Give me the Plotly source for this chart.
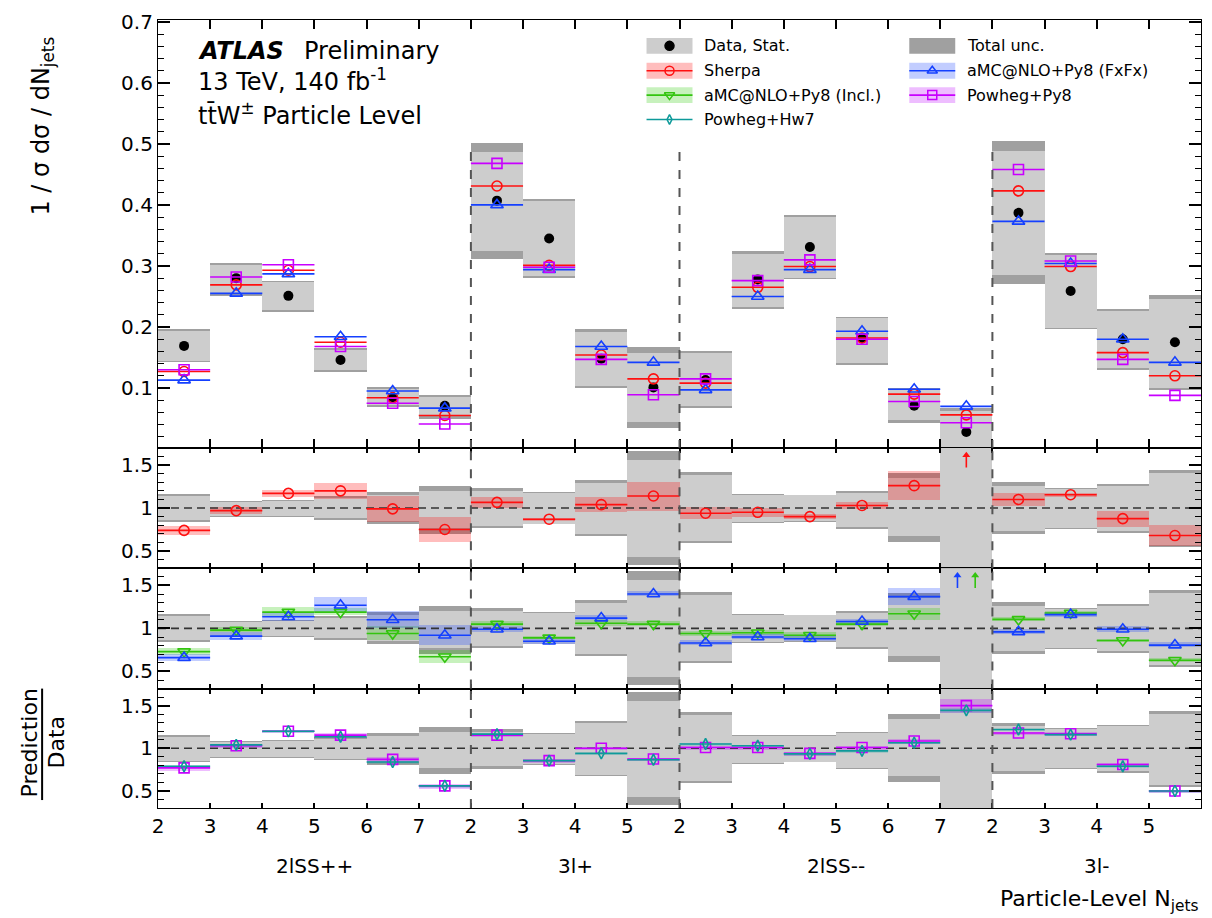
import numpy as np
import plotly.graph_objects as go

# ---------------------------------------------------------------- binning
regions = ["2lSS++", "3l+", "2lSS--", "3l-"]
region_nbins = [6, 4, 6, 4]
edge_labels = ["2", "3", "4", "5", "6", "7",
               "2", "3", "4", "5",
               "2", "3", "4", "5", "6", "7",
               "2", "3", "4", "5"]

# ------------------------------------------- unfolded normalised data
data = [0.169, 0.280, 0.251, 0.146, 0.085, 0.071,
        0.407, 0.345, 0.148, 0.101,
        0.113, 0.278, 0.331, 0.181, 0.071, 0.028,
        0.387, 0.259, 0.180, 0.175]
stat_hi = [0.193, 0.301, 0.273, 0.163, 0.098, 0.085,
           0.487, 0.406, 0.192, 0.158,
           0.157, 0.320, 0.380, 0.214, 0.096, 0.063,
           0.488, 0.318, 0.227, 0.246]
stat_lo = [0.145, 0.254, 0.228, 0.129, 0.072, 0.055,
           0.325, 0.283, 0.103, 0.044,
           0.070, 0.233, 0.281, 0.141, 0.048, 0.000,
           0.286, 0.199, 0.132, 0.100]
tot_hi = [0.196, 0.305, 0.276, 0.166, 0.101, 0.089,
          0.501, 0.410, 0.196, 0.168,
          0.161, 0.324, 0.383, 0.217, 0.100, 0.067,
          0.504, 0.321, 0.230, 0.252]
tot_lo = [0.142, 0.251, 0.225, 0.126, 0.069, 0.050,
          0.312, 0.280, 0.100, 0.034,
          0.067, 0.229, 0.278, 0.138, 0.043, 0.000,
          0.270, 0.196, 0.129, 0.096]

# ------------------------------------------------ predictions, main panel
sherpa = [0.127, 0.269, 0.293, 0.175, 0.084, 0.055,
          0.431, 0.301, 0.154, 0.115,
          0.108, 0.265, 0.299, 0.182, 0.090, 0.056,
          0.423, 0.299, 0.158, 0.120]
amc_fxfx = [0.113, 0.255, 0.287, 0.184, 0.095, 0.067,
            0.400, 0.294, 0.168, 0.142,
            0.097, 0.250, 0.294, 0.193, 0.098, 0.070,
            0.373, 0.304, 0.180, 0.142]
powheg_py8 = [0.130, 0.282, 0.302, 0.168, 0.075, 0.041,
              0.468, 0.298, 0.147, 0.089,
              0.115, 0.276, 0.310, 0.180, 0.078, 0.043,
              0.458, 0.308, 0.147, 0.088]

# ------------------------------------------------ prediction / data ratios
r_sherpa = [0.74, 0.97, 1.17, 1.20, 0.99, 0.75,
            1.066, 0.87, 1.04, 1.14,
            0.94, 0.95, 0.90, 1.03, 1.26, 2.00,
            1.10, 1.155, 0.877, 0.68]
r_amc_fxfx = [0.66, 0.91, 1.135, 1.27, 1.10, 0.92,
              0.99, 0.85, 1.12, 1.40,
              0.83, 0.90, 0.88, 1.08, 1.37, 2.50,
              0.96, 1.16, 0.99, 0.806]
r_amc_incl = [0.73, 0.98, 1.19, 1.19, 0.94, 0.67,
              1.05, 0.89, 1.06, 1.05,
              0.94, 0.95, 0.92, 1.05, 1.17, 2.20,
              1.105, 1.18, 0.86, 0.63]
r_powheg_py8 = [0.77, 1.03, 1.20, 1.155, 0.87, 0.56,
                1.155, 0.856, 1.00, 0.875,
                1.01, 1.01, 0.94, 1.01, 1.085, 1.50,
                1.18, 1.17, 0.81, 0.50]
r_powheg_hw7 = [0.79, 1.04, 1.20, 1.135, 0.84, 0.56,
                1.166, 0.856, 0.94, 0.865,
                1.05, 1.03, 0.935, 0.97, 1.065, 1.445,
                1.22, 1.16, 0.79, 0.50]

# ------------------- half-widths of the prediction uncertainty bands
u_sherpa = [0.05, 0.04, 0.04, 0.09, 0.15, 0.145,
            0.06, 0.02, 0.09, 0.17,
            0.07, 0.05, 0.03, 0.04, 0.17, 0.20,
            0.08, 0.02, 0.09, 0.12]
u_amc_fxfx = [0.04, 0.045, 0.05, 0.09, 0.10, 0.12,
              0.03, 0.03, 0.03, 0.03,
              0.03, 0.03, 0.03, 0.03, 0.10, 0.10,
              0.03, 0.03, 0.03, 0.03]
u_amc_incl = [0.04, 0.03, 0.06, 0.04, 0.08, 0.08,
              0.03, 0.02, 0.03, 0.03,
              0.03, 0.03, 0.03, 0.03, 0.07, 0.10,
              0.02, 0.02, 0.02, 0.02]
u_powheg_py8 = [0.03, 0.02, 0.02, 0.03, 0.03, 0.03,
                0.02, 0.02, 0.02, 0.02,
                0.02, 0.02, 0.02, 0.02, 0.03, 0.08,
                0.02, 0.02, 0.02, 0.02]
u_powheg_hw7 = [0.015, 0.015, 0.015, 0.015, 0.015, 0.015,
                0.015, 0.015, 0.015, 0.015,
                0.015, 0.015, 0.015, 0.015, 0.015, 0.03,
                0.015, 0.015, 0.015, 0.015]

# ---------------------------------------------------------------- styling
FONT = "DejaVu Sans"
RED, BLUE, GREEN, VIOLET, TEAL = "#ff1010", "#1540ff", "#33c40f", "#c800ff", "#0e9a9a"
BAND = {RED: "rgba(255,0,0,0.26)", BLUE: "rgba(20,60,255,0.26)",
        GREEN: "rgba(40,200,0,0.26)", VIOLET: "rgba(190,0,255,0.26)",
        TEAL: "rgba(0,150,150,0.18)"}
STAT_GREY, TOT_GREY = "#cdcdcd", "#a0a0a0"

W, H = 1212, 918
ML, MR, MT, MB = 158, 10, 16, 110
PW, PH = W - ML - MR, H - MT - MB


def fy(ypx):
    return (H - MB - ypx) / PH


def fx(xpx):
    return (xpx - ML) / PW


nb = len(data)
edges = np.arange(nb + 1, dtype=float)
centers = edges[:-1] + 0.5
d = np.array(data)

fig = go.Figure()


def band(lo, hi, color, xa, ya):
    lo = np.asarray(lo, float)
    hi = np.asarray(hi, float)
    fig.add_trace(go.Bar(x=centers, y=hi - lo, base=lo, width=1.0,
                         marker=dict(color=color, line=dict(width=0)),
                         xaxis=xa, yaxis=ya, hoverinfo="skip"))


def hlines(vals, color, xa, ya, width=1.6):
    xs, ys = [], []
    for i, v in enumerate(vals):
        xs += [edges[i], edges[i + 1], None]
        ys += [v, v, None]
    fig.add_trace(go.Scatter(x=xs, y=ys, mode="lines",
                             line=dict(color=color, width=width),
                             xaxis=xa, yaxis=ya, hoverinfo="skip"))


def markers(vals, color, symbol, size, xa, ya, filled=False):
    fig.add_trace(go.Scatter(x=centers, y=vals, mode="markers",
                             marker=dict(symbol=symbol, size=size, color=color,
                                         line=dict(color=color, width=1.6 if not filled else 0)),
                             xaxis=xa, yaxis=ya, hoverinfo="skip"))


def unity(xa, ya):
    fig.add_trace(go.Scatter(x=[0, nb], y=[1, 1], mode="lines",
                             line=dict(color="#333333", width=1.6, dash="8px,5px"),
                             xaxis=xa, yaxis=ya, hoverinfo="skip"))


def off_scale_arrows(xs, color, xa, ya):
    # shaft + head for ratios lying above the visible range
    sx, sy = [], []
    for x in xs:
        sx += [x, x, None]
        sy += [1.47, 1.60, None]
    fig.add_trace(go.Scatter(x=sx, y=sy, mode="lines", line=dict(color=color, width=1.6),
                             xaxis=xa, yaxis=ya, hoverinfo="skip"))
    fig.add_trace(go.Scatter(x=xs, y=[1.615] * len(xs), mode="markers",
                             marker=dict(symbol="triangle-up", size=7, color=color,
                                         line=dict(width=0)),
                             xaxis=xa, yaxis=ya, hoverinfo="skip"))


# ------------------------------------------------------------ main panel
band(tot_lo, tot_hi, TOT_GREY, "x", "y")
band(stat_lo, stat_hi, STAT_GREY, "x", "y")
markers(data, "black", "circle", 10, "x", "y", filled=True)
for vals, col, sym, sz in [(sherpa, RED, "circle-open", 10),
                           (amc_fxfx, BLUE, "triangle-up-open", 11),
                           (powheg_py8, VIOLET, "square-open", 10)]:
    hlines(vals, col, "x", "y")
    markers(vals, col, sym, sz, "x", "y")

# ----------------------------------------------------------- ratio panels
rel_tot_lo, rel_tot_hi = np.array(tot_lo) / d, np.array(tot_hi) / d
rel_stat_lo, rel_stat_hi = np.array(stat_lo) / d, np.array(stat_hi) / d

RMIN, RMAX = 0.3, 1.7
panels = [
    ("x2", "y2", [(r_sherpa, u_sherpa, RED, "circle-open", 10, 0.0)]),
    ("x3", "y3", [(r_amc_incl, u_amc_incl, GREEN, "triangle-down-open", 11, 0.17),
                  (r_amc_fxfx, u_amc_fxfx, BLUE, "triangle-up-open", 11, -0.17)]),
    ("x4", "y4", [(r_powheg_py8, u_powheg_py8, VIOLET, "square-open", 10, 0.0),
                  (r_powheg_hw7, u_powheg_hw7, TEAL, "diamond-tall-open", 8, 0.0)]),
]
for xa, ya, series in panels:
    band(rel_tot_lo, rel_tot_hi, TOT_GREY, xa, ya)
    band(rel_stat_lo, rel_stat_hi, STAT_GREY, xa, ya)
    for r, u, col, sym, sz, off in series:
        r = np.array(r)
        u = np.array(u)
        band(r - u, r + u, BAND[col], xa, ya)
    unity(xa, ya)
    for r, u, col, sym, sz, off in series:
        r = np.array(r)
        hlines(r, col, xa, ya)
        markers(r, col, sym, sz, xa, ya)
        above = centers[r > RMAX] + off
        if len(above):
            off_scale_arrows(list(above), col, xa, ya)

# --------------------------------------------------------- legend (pixel axes)
legend_rows = [42, 67, 91.5, 116]
legend_items = [
    (647, legend_rows[0], STAT_GREY, None, "circle", "black", "Data, Stat."),
    (647, legend_rows[1], BAND[RED], RED, "circle-open", RED, "Sherpa"),
    (647, legend_rows[2], BAND[GREEN], GREEN, "triangle-down-open", GREEN, "aMC@NLO+Py8 (Incl.)"),
    (647, legend_rows[3], None, TEAL, "diamond-tall-open", TEAL, "Powheg+Hw7"),
    (910, legend_rows[0], TOT_GREY, None, None, None, "Total unc."),
    (910, legend_rows[1], BAND[BLUE], BLUE, "triangle-up-open", BLUE, "aMC@NLO+Py8 (FxFx)"),
    (910, legend_rows[2], BAND[VIOLET], VIOLET, "square-open", VIOLET, "Powheg+Py8"),
]
shapes = []
annotations = []
for x0, yc, boxcol, linecol, sym, symcol, label in legend_items:
    x1 = x0 + 46
    if boxcol is not None:
        shapes.append(dict(type="rect", xref="x5", yref="y5", x0=x0, x1=x1,
                           y0=yc - 8, y1=yc + 8, fillcolor=boxcol, line=dict(width=0),
                           layer="below"))
    if linecol is not None:
        fig.add_trace(go.Scatter(x=[x0, x1], y=[yc, yc], mode="lines",
                                 line=dict(color=linecol, width=1.6),
                                 xaxis="x5", yaxis="y5", hoverinfo="skip"))
    if sym is not None:
        size = 9 if sym != "diamond-tall-open" else 7
        fig.add_trace(go.Scatter(x=[x0 + 23], y=[yc], mode="markers",
                                 marker=dict(symbol=sym, size=size, color=symcol,
                                             line=dict(color=symcol, width=1.5)),
                                 xaxis="x5", yaxis="y5", hoverinfo="skip"))
    annotations.append(dict(x=x1 + 10, y=yc, xref="x5", yref="y5", text=label,
                            showarrow=False, xanchor="left", yanchor="middle",
                            font=dict(family=FONT, size=16, color="black")))

# ----------------------------------------------------------- region dividers
bounds = np.cumsum(region_nbins)[:-1]
for b in bounds:
    shapes.append(dict(type="line", xref="x", yref="y", x0=b, x1=b, y0=0.0, y1=0.49,
                       line=dict(color="#555555", width=2, dash="9px,9px"), layer="above"))
    for ya in ["y2", "y3", "y4"]:
        shapes.append(dict(type="line", xref="x", yref=ya + " domain", x0=b, x1=b, y0=0, y1=1,
                           line=dict(color="#555555", width=2, dash="9px,9px"), layer="above"))

# "Prediction / Data" fraction bar
shapes.append(dict(type="line", xref="paper", yref="paper", x0=fx(42), x1=fx(42),
                   y0=fy(688), y1=fy(800), line=dict(color="black", width=2)))

# ----------------------------------------------------------- text labels
starts = np.concatenate([[0], np.cumsum(region_nbins)])
for name, a, b in zip(regions, starts[:-1], starts[1:]):
    annotations.append(dict(x=(a + b) / 2, y=fy(866), xref="x4", yref="paper", text=name,
                            showarrow=False, xanchor="center", yanchor="middle",
                            font=dict(family=FONT, size=20, color="black")))
annotations += [
    dict(x=1.0, y=fy(901), xref="paper", yref="paper",
         text="Particle-Level N<sub>jets</sub>", showarrow=False,
         xanchor="right", yanchor="middle", font=dict(family=FONT, size=22, color="black")),
    dict(x=fx(42), y=fy(123), xref="paper", yref="paper",
         text="1 / σ dσ / dN<sub>jets</sub>", textangle=-90, showarrow=False,
         xanchor="center", yanchor="middle", font=dict(family=FONT, size=24, color="black")),
    dict(x=fx(29), y=fy(743), xref="paper", yref="paper", text="Prediction", textangle=-90,
         showarrow=False, xanchor="center", yanchor="middle",
         font=dict(family=FONT, size=22, color="black")),
    dict(x=fx(56), y=fy(742), xref="paper", yref="paper", text="Data", textangle=-90,
         showarrow=False, xanchor="center", yanchor="middle",
         font=dict(family=FONT, size=22, color="black")),
    dict(x=196, y=47, xref="x5", yref="y5", text="<b><i>ATLAS</i></b>", showarrow=False,
         xanchor="left", yanchor="middle", font=dict(family=FONT, size=24, color="black")),
    dict(x=302, y=47, xref="x5", yref="y5", text="Preliminary", showarrow=False,
         xanchor="left", yanchor="middle", font=dict(family=FONT, size=24, color="black")),
    dict(x=196, y=76, xref="x5", yref="y5", text="13 TeV, 140 fb<sup>-1</sup>", showarrow=False,
         xanchor="left", yanchor="middle", font=dict(family=FONT, size=24, color="black")),
    dict(x=196, y=110, xref="x5", yref="y5", text="tt\u0304W<sup>±</sup> Particle Level",
         showarrow=False, xanchor="left", yanchor="middle",
         font=dict(family=FONT, size=24, color="black")),
]

# ------------------------------------------------------------------ axes
tickfont = dict(family=FONT, size=20, color="black")
base_axis = dict(showline=True, linecolor="black", linewidth=1.2, mirror="allticks",
                 ticks="inside", tickcolor="black", tickwidth=1.5, showgrid=False,
                 zeroline=False, tickfont=tickfont)

dom_main = [fy(446), 1.0]
dom_r1 = [fy(567), fy(446)]
dom_r2 = [fy(688), fy(567)]
dom_r3 = [0.0, fy(688)]

layout_axes = {}
for k, (ya, ln, show) in enumerate([("y", 9, False), ("y2", 5, False),
                                    ("y3", 5, False), ("y4", 5, True)]):
    name = "xaxis" if k == 0 else f"xaxis{k + 1}"
    ax = dict(base_axis, range=[0, nb], tickmode="array", tickvals=list(edges[:-1]),
              ticktext=edge_labels, ticklen=ln, showticklabels=show, anchor=ya)
    if k > 0:
        ax["matches"] = "x"
    layout_axes[name] = ax

layout_axes["yaxis"] = dict(base_axis, domain=dom_main, range=[0.002, 0.703], anchor="x",
                            tick0=0, dtick=0.1, tickformat=".1f", ticklen=12,
                            minor=dict(ticks="inside", ticklen=6, dtick=0.02, tick0=0,
                                       tickcolor="black", tickwidth=1, showgrid=False))
for k, dom in zip([2, 3, 4], [dom_r1, dom_r2, dom_r3]):
    layout_axes[f"yaxis{k}"] = dict(base_axis, domain=dom, range=[RMIN, RMAX], anchor=f"x{k}",
                                    tickmode="array", tickvals=[0.5, 1, 1.5],
                                    ticktext=["0.5", "1", "1.5"], ticklen=12,
                                    minor=dict(ticks="inside", ticklen=6, dtick=0.1, tick0=0,
                                               tickcolor="black", tickwidth=1, showgrid=False))
layout_axes["xaxis5"] = dict(domain=[0, 1], range=[ML, W - MR], visible=False, anchor="y5",
                             fixedrange=True)
layout_axes["yaxis5"] = dict(domain=dom_main, range=[446, 16], visible=False, anchor="x5",
                             fixedrange=True)

fig.update_layout(
    width=W, height=H,
    margin=dict(l=ML, r=MR, t=MT, b=MB),
    paper_bgcolor="white", plot_bgcolor="rgba(0,0,0,0)",
    barmode="overlay", bargap=0, showlegend=False,
    shapes=shapes, annotations=annotations,
    font=dict(family=FONT, color="black"),
    **layout_axes,
)

fig.write_html("out.html")
